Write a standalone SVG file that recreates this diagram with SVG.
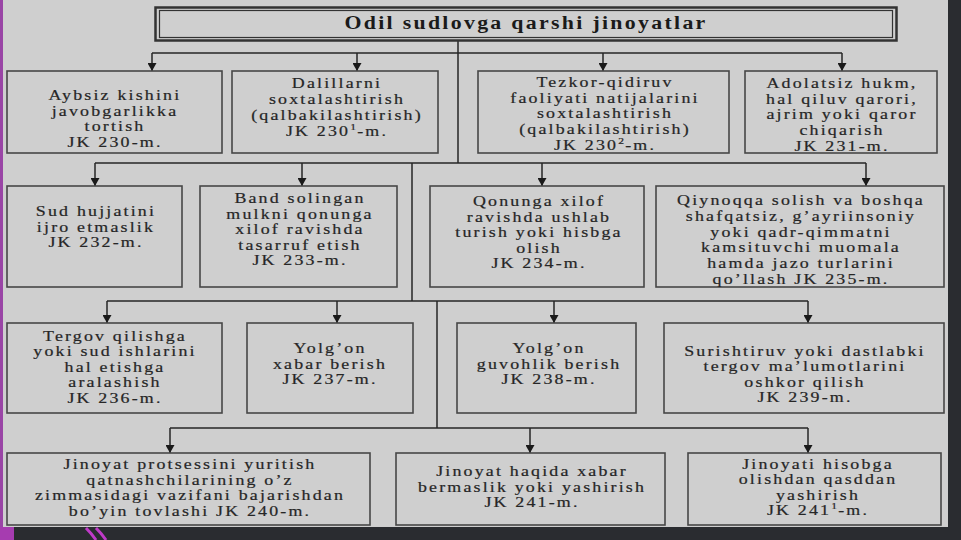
<svg xmlns="http://www.w3.org/2000/svg" width="961" height="540" viewBox="0 0 961 540">
<defs>
<style>
.bg{fill:#cfcfcf}
.box{fill:#cfcfcf;stroke:#474747;stroke-width:1.6}
.t{font-family:"Liberation Serif","Times New Roman",serif;font-size:14px;letter-spacing:1.7px;fill:#262626;stroke:#262626;stroke-width:0.2;text-anchor:middle}
.sup{font-size:9px;letter-spacing:1px}
.title{font-family:"Liberation Serif","Times New Roman",serif;font-size:19px;font-weight:bold;letter-spacing:2px;fill:#1a1a1a;text-anchor:middle}
.c{stroke:#262626;stroke-width:1.5;fill:none}
.a{marker-end:url(#ah)}
</style>
<marker id="ah" viewBox="0 0 8 9" markerWidth="8" markerHeight="9" refX="8" refY="4.5" orient="auto" markerUnits="userSpaceOnUse"><path d="M0,0 L8,4.5 L0,9 z" fill="#1a1a1a"/></marker>
</defs>

<!-- slide background and frame -->
<rect class="bg" x="0" y="0" width="961" height="540"/>
<rect x="948" y="0" width="13" height="540" fill="#2a2c30"/>
<rect x="0" y="527" width="961" height="13" fill="#2a2c30"/>
<rect x="0" y="0" width="3" height="540" fill="#9a45a6"/>
<rect x="0" y="527" width="14" height="13" fill="#a63cb0"/>
<path d="M86,528 Q92,534 96,540 M96,528 Q102,534 106,540" stroke="#c03ac8" stroke-width="3" fill="none"/>

<!-- connectors -->
<g id="connectors">
<path class="c" d="M458,41 V163"/>
<path class="c" d="M152,53 H842"/>
<path class="c a" d="M152,53 V71"/>
<path class="c a" d="M357,53 V71"/>
<path class="c a" d="M603,53 V71"/>
<path class="c a" d="M842,53 V71"/>
<path class="c" d="M95,163 H866"/>
<path class="c a" d="M95,163 V186"/>
<path class="c a" d="M302,163 V186"/>
<path class="c a" d="M542,163 V186"/>
<path class="c a" d="M866,163 V186"/>
<path class="c" d="M412,163 V301"/>
<path class="c" d="M107,301 H808"/>
<path class="c a" d="M107,301 V323"/>
<path class="c a" d="M337,301 V323"/>
<path class="c a" d="M554,301 V323"/>
<path class="c a" d="M808,301 V323"/>
<path class="c" d="M437,301 V428"/>
<path class="c" d="M170,428 H808"/>
<path class="c a" d="M170,428 V453"/>
<path class="c a" d="M530,428 V453"/>
<path class="c a" d="M808,428 V453"/>
</g>

<g id="title">
<rect x="155.5" y="7.5" width="741" height="33" fill="#cfcfcf" stroke="#333" stroke-width="2.5"/>
<rect x="159.5" y="10.5" width="733" height="27" fill="none" stroke="#333" stroke-width="1.2"/>
<text class="title" transform="translate(526 0) scale(1.15 1)" x="0" y="29">Odil sudlovga qarshi jinoyatlar</text>
</g>

<g id="n230">
<rect class="box" x="7" y="71" width="215" height="82"/>
<text class="t" transform="translate(115 0) scale(1.28 1)"><tspan x="0" y="100">Aybsiz kishini</tspan><tspan x="0" y="115.6">javobgarlikka</tspan><tspan x="0" y="131.2">tortish</tspan><tspan x="0" y="146.8">JK 230-m.</tspan></text>
</g>
<g id="n230-1">
<rect class="box" x="232" y="71" width="206" height="82"/>
<text class="t" transform="translate(337 0) scale(1.28 1)"><tspan x="0" y="88">Dalillarni</tspan><tspan x="0" y="104">soxtalashtirish</tspan><tspan x="0" y="120">(qalbakilashtirish)</tspan><tspan x="0" y="136.5">JK 230<tspan class="sup" dy="-6">1</tspan><tspan dy="6">-m.</tspan></tspan></text>
</g>
<g id="n230-2">
<rect class="box" x="478" y="71" width="251" height="82"/>
<text class="t" transform="translate(605 0) scale(1.28 1)"><tspan x="0" y="87">Tezkor-qidiruv</tspan><tspan x="0" y="102.7">faoliyati natijalarini</tspan><tspan x="0" y="118.4">soxtalashtirish</tspan><tspan x="0" y="134.1">(qalbakilashtirish)</tspan><tspan x="0" y="149.8">JK 230<tspan class="sup" dy="-6">2</tspan><tspan dy="6">-m.</tspan></tspan></text>
</g>
<g id="n231">
<rect class="box" x="745" y="71" width="192" height="82"/>
<text class="t" transform="translate(842 0) scale(1.28 1)"><tspan x="0" y="88">Adolatsiz hukm,</tspan><tspan x="0" y="103.7">hal qiluv qarori,</tspan><tspan x="0" y="119.4">ajrim yoki qaror</tspan><tspan x="0" y="135.1">chiqarish</tspan><tspan x="0" y="150.8">JK 231-m.</tspan></text>
</g>

<g id="n232">
<rect class="box" x="7" y="186" width="175" height="101"/>
<text class="t" transform="translate(96 0) scale(1.28 1)"><tspan x="0" y="216.5">Sud hujjatini</tspan><tspan x="0" y="232">ijro etmaslik</tspan><tspan x="0" y="247.5">JK 232-m.</tspan></text>
</g>
<g id="n233">
<rect class="box" x="200" y="186" width="197" height="101"/>
<text class="t" transform="translate(300 0) scale(1.28 1)"><tspan x="0" y="203">Band solingan</tspan><tspan x="0" y="218.6">mulkni qonunga</tspan><tspan x="0" y="234.2">xilof ravishda</tspan><tspan x="0" y="249.8">tasarruf etish</tspan><tspan x="0" y="265.4">JK 233-m.</tspan></text>
</g>
<g id="n234">
<rect class="box" x="430" y="186" width="214" height="101"/>
<text class="t" transform="translate(539 0) scale(1.28 1)"><tspan x="0" y="206">Qonunga xilof</tspan><tspan x="0" y="221.6">ravishda ushlab</tspan><tspan x="0" y="237.2">turish yoki hisbga</tspan><tspan x="0" y="252.8">olish</tspan><tspan x="0" y="268.4">JK 234-m.</tspan></text>
</g>
<g id="n235">
<rect class="box" x="656" y="186" width="288" height="101"/>
<text class="t" transform="translate(801 0) scale(1.28 1)"><tspan x="0" y="205">Qiynoqqa solish va boshqa</tspan><tspan x="0" y="220.8">shafqatsiz, g’ayriinsoniy</tspan><tspan x="0" y="236.6">yoki qadr-qimmatni</tspan><tspan x="0" y="252.4">kamsituvchi muomala</tspan><tspan x="0" y="268.2">hamda jazo turlarini</tspan><tspan x="0" y="284">qo’llash JK 235-m.</tspan></text>
</g>

<g id="n236">
<rect class="box" x="7" y="323" width="215" height="90"/>
<text class="t" transform="translate(115 0) scale(1.28 1)"><tspan x="0" y="341">Tergov qilishga</tspan><tspan x="0" y="356.5">yoki sud ishlarini</tspan><tspan x="0" y="372">hal etishga</tspan><tspan x="0" y="387.5">aralashish</tspan><tspan x="0" y="403">JK 236-m.</tspan></text>
</g>
<g id="n237">
<rect class="box" x="247" y="323" width="166" height="90"/>
<text class="t" transform="translate(330 0) scale(1.28 1)"><tspan x="0" y="353.5">Yolg’on</tspan><tspan x="0" y="369">xabar berish</tspan><tspan x="0" y="384.5">JK 237-m.</tspan></text>
</g>
<g id="n238">
<rect class="box" x="457" y="323" width="179" height="90"/>
<text class="t" transform="translate(549 0) scale(1.28 1)"><tspan x="0" y="353.5">Yolg’on</tspan><tspan x="0" y="369">guvohlik berish</tspan><tspan x="0" y="384.5">JK 238-m.</tspan></text>
</g>
<g id="n239">
<rect class="box" x="664" y="323" width="280" height="90"/>
<text class="t" transform="translate(805 0) scale(1.28 1)"><tspan x="0" y="356">Surishtiruv yoki dastlabki</tspan><tspan x="0" y="371.5">tergov ma’lumotlarini</tspan><tspan x="0" y="387">oshkor qilish</tspan><tspan x="0" y="402.5">JK 239-m.</tspan></text>
</g>

<g id="n240">
<rect class="box" x="7" y="453" width="363" height="72"/>
<text class="t" transform="translate(190 0) scale(1.28 1)"><tspan x="0" y="469.5">Jinoyat protsessini yuritish</tspan><tspan x="0" y="485">qatnashchilarining o’z</tspan><tspan x="0" y="500.5">zimmasidagi vazifani bajarishdan</tspan><tspan x="0" y="516">bo’yin tovlashi JK 240-m.</tspan></text>
</g>
<g id="n241">
<rect class="box" x="396" y="453" width="269" height="72"/>
<text class="t" transform="translate(532 0) scale(1.28 1)"><tspan x="0" y="476.5">Jinoyat haqida xabar</tspan><tspan x="0" y="492">bermaslik yoki yashirish</tspan><tspan x="0" y="507.5">JK 241-m.</tspan></text>
</g>
<g id="n241-1">
<rect class="box" x="688" y="453" width="253" height="72"/>
<text class="t" transform="translate(818 0) scale(1.28 1)"><tspan x="0" y="469">Jinoyati hisobga</tspan><tspan x="0" y="484.5">olishdan qasddan</tspan><tspan x="0" y="500">yashirish</tspan><tspan x="0" y="515.5">JK 241<tspan class="sup" dy="-6">1</tspan><tspan dy="6">-m.</tspan></tspan></text>
</g>
</svg>
